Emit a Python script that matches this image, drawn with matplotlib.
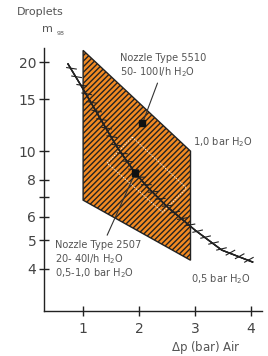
import matplotlib
matplotlib.use("Agg")
import matplotlib.pyplot as plt
import matplotlib.patheffects as pe
from matplotlib.patches import Polygon

# operating range of nozzle type 5510 (x = air pressure, y = droplet size)
range_x = [1.0, 2.92, 2.92, 1.0]
range_y = [21.9, 10.0, 4.28, 6.83]

# inner dotted zone
zone_x = [1.88, 2.85, 2.42, 1.43]
zone_y = [11.15, 7.50, 6.22, 9.11]

# droplet curve of nozzle type 2507
curve_x = [0.73, 0.98, 1.38, 1.61, 1.92, 2.15, 2.51, 3.0, 3.48, 4.03]
curve_y = [19.7, 16.45, 12.2, 10.3, 8.5, 7.56, 6.47, 5.41, 4.63, 4.22]

# nozzle points
nozzle_names = ["5510", "2507"]
nozzle_x = [2.06, 1.93]
nozzle_y = [12.4, 8.43]

yticks = [4, 5, 6, 8, 10, 15, 20]
xticks = [1, 2, 3, 4]

txt = "#555555"
plt.rcParams["font.family"] = "DejaVu Sans"
plt.rcParams["mathtext.default"] = "regular"
plt.rcParams["hatch.color"] = "#3b2412"
plt.rcParams["hatch.linewidth"] = 1.0

fig = plt.figure(figsize=(2.68, 3.56), dpi=100)
ax = fig.add_axes([0.164, 0.126, 0.814, 0.739])
ax.set_yscale("log")
ax.set_xlim(0.3, 4.2)
ax.set_ylim(2.88, 22.3)

poly = Polygon(list(zip(range_x, range_y)), closed=True, facecolor="#f28a22",
               edgecolor="#222222", linewidth=1.0, hatch="//////", zorder=2)
ax.add_patch(poly)

zone = Polygon(list(zip(zone_x, zone_y)), closed=True, fill=False,
               edgecolor="white", linewidth=0.6, linestyle=(0, (1.5, 1.5)), zorder=3)
ax.add_patch(zone)

ax.plot(curve_x, curve_y, color="#222222", linewidth=1.0, zorder=4,
        path_effects=[pe.withTickedStroke(spacing=7, angle=50, length=0.6, linewidth=0.8),
                      pe.withTickedStroke(spacing=7, angle=230, length=0.4, linewidth=0.8),
                      pe.Normal()])

ax.plot(nozzle_x, nozzle_y, linestyle="none", marker="s", markersize=4,
        color="#111111", zorder=5)

# leader lines
ax.annotate("", xy=(nozzle_x[0], nozzle_y[0]), xytext=(2.33, 16.98),
            arrowprops=dict(arrowstyle="-", color="#333333", lw=0.8, shrinkA=0, shrinkB=2))
ax.annotate("", xy=(nozzle_x[1], nozzle_y[1]), xytext=(1.43, 5.2),
            arrowprops=dict(arrowstyle="-", color="#333333", lw=0.8, shrinkA=0, shrinkB=2))

fs = 7.1
ax.text(1.66, 20.6, "Nozzle Type " + nozzle_names[0], fontsize=fs, color=txt, va="center")
ax.text(1.66, 18.5, "50- 100l/h H$_2$O", fontsize=fs, color=txt, va="center")
ax.text(0.50, 4.81, "Nozzle Type " + nozzle_names[1], fontsize=fs, color=txt, va="center")
ax.text(0.50, 4.32, "20- 40l/h H$_2$O", fontsize=fs, color=txt, va="center")
ax.text(0.50, 3.87, "0,5-1,0 bar H$_2$O", fontsize=fs, color=txt, va="center")
ax.text(2.96, 10.7, "1,0 bar H$_2$O", fontsize=fs, color=txt, va="center")
ax.text(2.92, 3.70, "0,5 bar H$_2$O", fontsize=fs, color=txt, va="center")

fig.text(0.063, 0.966, "Droplets", fontsize=8, color=txt, va="center")
fig.text(0.157, 0.918, "m", fontsize=8, color=txt, va="center")
fig.text(0.212, 0.907, "98", fontsize=4.5, color=txt, va="center")
fig.text(0.638, 0.023, "$\\Delta$p (bar) Air", fontsize=8.5, color=txt, va="center")

ax.set_yticks(yticks)
ax.set_yticklabels([str(v) for v in yticks])
ax.set_yticks([7], minor=True)
ax.set_yticklabels([""], minor=True)
ax.set_xticks(xticks)
ax.set_xticklabels([str(v) for v in xticks])

for s in ["top", "right"]:
    ax.spines[s].set_visible(False)
for s in ["left", "bottom"]:
    ax.spines[s].set_color("#222222")
    ax.spines[s].set_linewidth(1.0)

ax.tick_params(axis="both", which="both", direction="inout", length=7, width=1.0,
               colors="#222222", labelcolor="#444444", labelsize=10, pad=2)
ax.tick_params(axis="x", pad=4)

fig.savefig("out.png", dpi=100)
